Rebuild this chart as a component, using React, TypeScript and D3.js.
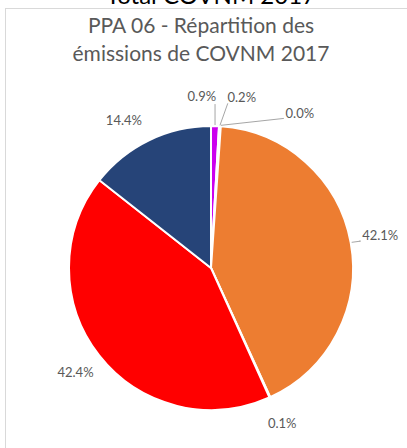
import { useEffect, useRef } from 'react';
import * as d3 from 'd3';

// slices clockwise from 12 o'clock
const categories = ['Agriculture', 'Branche énergie', 'Déchets', 'Industrie', 'Transport non routier', 'Résidentiel / tertiaire', 'Transport routier'];
const shares = [0.9, 0.2, 0.0, 42.1, 0.1, 42.4, 14.4];
const colors = ['#CC00EE', '#A5A5A5', '#FFC000', '#ED7D31', '#5B9BD5', '#FF0000', '#264478'];
const titleLines = ['PPA 06 - Répartition des', 'émissions de COVNM 2017'];
const headerText = 'Total COVNM 2017';

const W = 407;
const H = 448;

export default function App() {
  const svgRef = useRef<SVGSVGElement | null>(null);

  useEffect(() => {
    if (!svgRef.current) return;
    const svg = d3.select(svgRef.current);
    svg.selectAll('*').remove();

    const cx = 211;
    const cy = 268;
    const radius = 142;
    const labelR = 172;

    // cropped header above the chart frame
    svg.append('text')
      .attr('x', 211)
      .attr('y', 4)
      .attr('text-anchor', 'middle')
      .attr('font-family', 'Lato, sans-serif')
      .attr('font-size', 24)
      .attr('fill', '#000')
      .text(headerText);

    svg.append('rect')
      .attr('x', 5.5)
      .attr('y', 8.5)
      .attr('width', 440)
      .attr('height', 480)
      .attr('fill', '#fff')
      .attr('stroke', '#D9D9D9');

    svg.selectAll('.title')
      .data(titleLines)
      .join('text')
      .attr('class', 'title')
      .attr('x', 201)
      .attr('y', (_, i) => 33 + i * 28)
      .attr('text-anchor', 'middle')
      .attr('font-family', 'Lato, sans-serif')
      .attr('font-size', 21)
      .attr('fill', '#595959')
      .text(d => d);

    const data = categories.map((c, i) => ({ name: c, value: shares[i], color: colors[i] }));
    const pie = d3.pie<any>().sort(null).value(d => d.value);
    const arcs = pie(data);
    const arc = d3.arc<any>().innerRadius(0).outerRadius(radius);

    const g = svg.append('g').attr('transform', `translate(${cx},${cy})`);

    g.selectAll('path')
      .data(arcs)
      .join('path')
      .attr('d', arc)
      .attr('fill', d => d.data.color)
      .attr('stroke', '#fff')
      .attr('stroke-width', 2);

    const mid = (d: any) => (d.startAngle + d.endAngle) / 2;
    const pt = (a: number, r: number) => [Math.sin(a) * r, -Math.cos(a) * r];

    // Excel "best fit" nudges for the crowded small slices at the top
    const nudge: Record<number, [number, number]> = {
      0: [-14, 2],
      1: [20, 2],
      2: [77, 18],
      3: [0, 0],
      4: [0, 0],
      5: [0, 0],
      6: [-12, 8],
    };

    const labels = arcs.map((d, i) => {
      const [x, y] = pt(mid(d), labelR);
      const [nx, ny] = nudge[i];
      return { d, i, x: x + nx, y: y + ny };
    });

    // leader lines
    const leaders: [number, number][][] = [];
    labels.forEach(l => {
      const a = mid(l.d);
      const edge = pt(a, radius + 1) as [number, number];
      if (l.i === 0) leaders.push([edge, [edge[0], l.y + 6]]);
      if (l.i === 1) leaders.push([edge, [l.x - 14, l.y + 5]]);
      if (l.i === 2) leaders.push([edge, [l.x - 16, l.y + 4]]);
      if (l.i === 3) {
        const elbow = pt(a, radius + 10) as [number, number];
        leaders.push([edge, [elbow[0], l.y + 4], [l.x - 21, l.y + 4]]);
      }
    });

    g.selectAll('.leader')
      .data(leaders)
      .join('polyline')
      .attr('class', 'leader')
      .attr('points', d => d.map(p => p.join(',')).join(' '))
      .attr('fill', 'none')
      .attr('stroke', '#A6A6A6')
      .attr('stroke-width', 1);

    g.selectAll('.lbl')
      .data(labels)
      .join('text')
      .attr('class', 'lbl')
      .attr('x', d => d.x)
      .attr('y', d => d.y)
      .attr('text-anchor', 'middle')
      .attr('dominant-baseline', 'middle')
      .attr('font-family', 'Lato, sans-serif')
      .attr('font-size', 13)
      .attr('fill', '#595959')
      .text(d => `${d.d.data.value.toFixed(1)}%`);
  }, []);

  return (
    <svg
      ref={svgRef}
      width={W}
      height={H}
      style={{ position: 'fixed', left: 0, top: 0, background: '#fff' }}
    />
  );
}
